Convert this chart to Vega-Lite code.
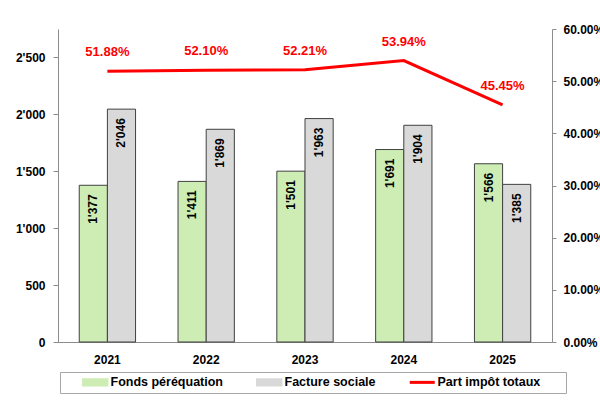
{
  "$schema": "https://vega.github.io/schema/vega-lite/v6.json",
  "width": 494,
  "height": 313,
  "autosize": {"type": "none"},
  "padding": {"left": 58, "top": 29, "right": 48, "bottom": 66},
  "config": {
    "font": "Liberation Sans",
    "locale": {"number": {"decimal": ".", "thousands": "'", "grouping": [3], "currency": ["", ""]}},
    "view": {"stroke": null},
    "axis": {
      "labelFont": "Liberation Sans",
      "labelFontWeight": "bold",
      "labelColor": "#000000",
      "labelFontSize": 12,
      "domainColor": "#8c8c8c",
      "tickColor": "#8c8c8c",
      "grid": false,
      "title": null
    }
  },
  "datasets": {
    "bars": [
      {"year": "2021", "series": "Fonds péréquation", "value": 1377},
      {"year": "2021", "series": "Facture sociale", "value": 2046},
      {"year": "2022", "series": "Fonds péréquation", "value": 1411},
      {"year": "2022", "series": "Facture sociale", "value": 1869},
      {"year": "2023", "series": "Fonds péréquation", "value": 1501},
      {"year": "2023", "series": "Facture sociale", "value": 1963},
      {"year": "2024", "series": "Fonds péréquation", "value": 1691},
      {"year": "2024", "series": "Facture sociale", "value": 1904},
      {"year": "2025", "series": "Fonds péréquation", "value": 1566},
      {"year": "2025", "series": "Facture sociale", "value": 1385}
    ],
    "share": [
      {"year": "2021", "share": 0.5188},
      {"year": "2022", "share": 0.5210},
      {"year": "2023", "share": 0.5221},
      {"year": "2024", "share": 0.5394},
      {"year": "2025", "share": 0.4545}
    ]
  },
  "layer": [
    {
      "data": {"name": "bars"},
      "encoding": {
        "x": {
          "field": "year",
          "type": "nominal",
          "scale": {"paddingInner": 0.43, "paddingOuter": 0.215},
          "axis": {"labelAngle": 0, "ticks": false, "labelPadding": 12}
        },
        "xOffset": {"field": "series", "type": "nominal", "sort": ["Fonds péréquation", "Facture sociale"]},
        "y": {
          "field": "value",
          "type": "quantitative",
          "scale": {"domain": [0, 2750], "nice": false},
          "axis": {"values": [0, 500, 1000, 1500, 2000, 2500], "format": ",d", "tickSize": 5, "labelPadding": 8}
        }
      },
      "layer": [
        {
          "mark": {"type": "bar", "stroke": "#404040", "strokeWidth": 1},
          "encoding": {
            "color": {
              "field": "series",
              "type": "nominal",
              "scale": {
                "domain": ["Fonds péréquation", "Facture sociale", "Part impôt totaux"],
                "range": ["#CDEDB5", "#D9D9D9", "#FF0000"]
              },
              "legend": {
                "title": " ",
                "titleOrient": "right",
                "titlePadding": 22,
                "orient": "none",
                "direction": "horizontal",
                "legendX": 2,
                "legendY": 343,
                "strokeColor": "#a6a6a6",
                "padding": 4,
                "symbolOffset": 25,
                "columnPadding": 15,
                "labelOffset": 9,
                "labelFontSize": 12.5,
                "labelFontWeight": "bold",
                "labelColor": "#000000",
                "symbolSize": 625,
                "symbolType": "M-1,-0.27H1V0.27H-1Z",
                "symbolStrokeColor": "#404040",
                "symbolStrokeWidth": 1.5,
                "encode": {
                  "symbols": {
                    "update": {
                      "shape": {"signal": "datum.value === 'Part impôt totaux' ? 'M-1,0H1' : 'M-1,-0.27H1V0.27H-1Z'"},
                      "stroke": {"signal": "datum.value === 'Part impôt totaux' ? '#FF0000' : '#404040'"},
                      "strokeWidth": {"signal": "datum.value === 'Part impôt totaux' ? 3 : 1.5"},
                      "fill": {"signal": "datum.value === 'Fonds péréquation' ? '#CDEDB5' : (datum.value === 'Facture sociale' ? '#D9D9D9' : 'transparent')"},
                      "opacity": {"value": 1},
                      "fillOpacity": {"value": 1},
                      "strokeOpacity": {"value": 1}
                    }
                  }
                }
              }
            }
          }
        },
        {
          "mark": {"type": "text", "angle": 270, "align": "right", "baseline": "middle", "dx": -9, "fontWeight": "bold", "fontSize": 12, "color": "#000000"},
          "encoding": {"text": {"field": "value", "type": "quantitative", "format": ","}}
        }
      ]
    },
    {
      "data": {"name": "share"},
      "encoding": {
        "x": {"field": "year", "type": "nominal", "bandPosition": 0.5},
        "y": {
          "field": "share",
          "type": "quantitative",
          "scale": {"domain": [0, 0.6], "nice": false},
          "axis": {"orient": "right", "format": ".2%", "values": [0, 0.1, 0.2, 0.3, 0.4, 0.5, 0.6], "tickSize": 4, "labelPadding": 7}
        }
      },
      "layer": [
        {
          "mark": {"type": "line", "strokeWidth": 3},
          "encoding": {"color": {"datum": "Part impôt totaux", "type": "nominal", "legend": null}}
        },
        {
          "mark": {"type": "text", "dy": -19, "baseline": "middle", "color": "#FF0000", "fontWeight": "bold", "fontSize": 13},
          "encoding": {"text": {"field": "share", "type": "quantitative", "format": ".2%"}}
        }
      ]
    }
  ],
  "resolve": {"scale": {"y": "independent"}}
}
